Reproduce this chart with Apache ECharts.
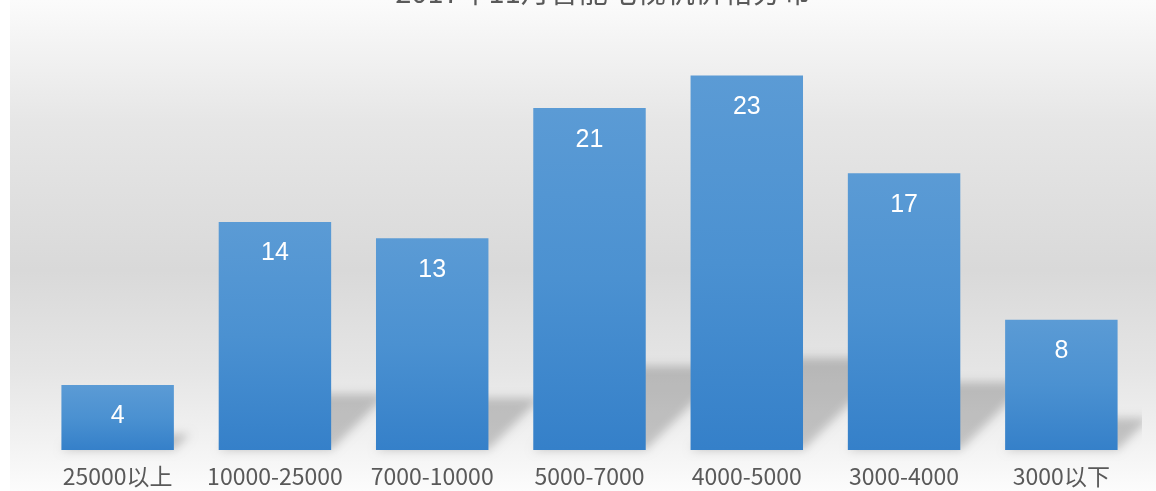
<!DOCTYPE html>
<html><head><meta charset="utf-8">
<script src="https://cdn.jsdelivr.net/npm/echarts@6/dist/echarts.min.js"></script>
<style>html,body{margin:0;padding:0;background:#fff}#c{width:1156px;height:491px}</style>
</head><body><div id="c"></div>
<script>
var titleText = '2017年11月智能电视机价格分布';
var categories = ['25000以上','10000-25000','7000-10000','5000-7000','4000-5000','3000-4000','3000以下'];
var values = [4, 14, 13, 21, 23, 17, 8];

var chart = echarts.init(document.getElementById('c'), null, {renderer:'canvas'});
var bgGrad = new echarts.graphic.LinearGradient(0,0,0,1,[
  {offset:0,color:'#fbfbfb'},{offset:0.25,color:'#e6e6e6'},{offset:0.55,color:'#d9d9d9'},
  {offset:0.75,color:'#e5e5e5'},{offset:0.9,color:'#f2f2f2'},{offset:1,color:'#fcfcfc'}]);
var OFF = 3000;
chart.setOption({
  animation:false,
  graphic:[{type:'rect',left:10,top:0,z:-10,shape:{width:1146,height:491},style:{fill:bgGrad}}],
  title:{text:titleText,left:598,top:-28,textAlign:'center',
    textStyle:{fontFamily:'Noto Sans CJK SC',fontSize:29,fontWeight:'normal',color:'#595959'}},
  grid:{left:39,top:43,width:1101,height:407},
  xAxis:{type:'category',data:categories,axisLine:{show:false},axisTick:{show:false},
    axisLabel:{margin:15,fontSize:23,color:'#595959',fontFamily:'Noto Sans CJK SC',interval:0}},
  yAxis:{type:'value',min:0,max:25,show:false,splitLine:{show:false}},
  series:[
    {type:'custom',clip:false,z:1,data:values.map(function(v,i){return [i,v];}),
     renderItem:function(params,api){
       var i=api.value(0), v=api.value(1);
       var p0=api.coord([i,0]);
       var w=api.size([1,0])[0]*0.715;
       var hs=v*4.0, s=hs*1.0;
       var xl=p0[0]-w/2, xr=p0[0]+w/2, y0=p0[1];
       var cs=params.coordSys;
       var right=cs.x+cs.width+2;
       var pts=[[xl,y0],[xr,y0],[xr+s,y0-hs],[xl+s,y0-hs]];
       var cx=cs.x-OFF-50;
       return {type:'group',children:[
         {type:'polygon',shape:{points:pts.map(function(p){return [p[0]-OFF,p[1]];})},
          style:{fill:'#000',shadowBlur:10,shadowOffsetX:OFF,shadowOffsetY:0,shadowColor:'rgba(0,0,0,0.2)'}}
       ], clipPath:{type:'rect',shape:{x:cx,y:0,width:right-cx,height:491}}};
     }},
    {type:'bar',data:values,barWidth:'71.5%',z:3,
     itemStyle:{color:new echarts.graphic.LinearGradient(0,0,0,1,[
       {offset:0,color:'#5b9bd5'},{offset:0.5,color:'#4b91d1'},{offset:1,color:'#3580c9'}])},
     label:{show:true,position:'insideTop',distance:19,color:'#ffffff',fontSize:25,
       fontFamily:'Liberation Sans',fontWeight:'normal'}}
  ]
});
</script></body></html>
